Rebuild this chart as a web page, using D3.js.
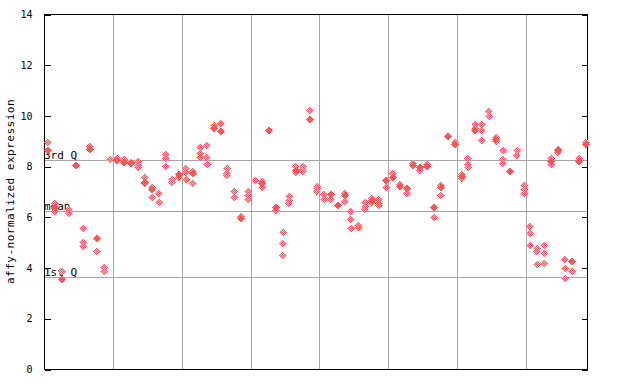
<!DOCTYPE html>
<html>
<head>
<meta charset="utf-8">
<script src="https://cdn.jsdelivr.net/npm/d3@7"></script>
<style>
  body { margin: 0; background: #fff; }
  svg { display: block; }
  text { font-family: "DejaVu Sans Mono", monospace; fill: #000; }
</style>
</head>
<body>
<svg width="640" height="384"></svg>
<script>
// filled diamond for each sample (null where none is visible)
const sampleValues = [
  8.64, 6.39, 3.56, null, 8.06, null, 8.68, 5.18, null, null,
  8.24, 8.16, 8.11, null, 7.39, 7.10, null, null, null, 7.69,
  null, 7.73, null, null, 9.52, 9.39, null, null, 5.94, null,
  null, 7.32, 9.43, 6.38, null, null, 7.84, null, 9.86, null,
  null, 6.90, 6.46, 6.86, null, null, null, 6.66, null, 7.44,
  7.58, 7.22, 7.15, 8.03, 7.95, 8.01, 6.40, 7.17, 9.20, 8.88,
  7.62, null, 9.43, null, null, 9.06, null, 7.82, null, null,
  null, null, null, 8.20, 8.62, null, 4.27, 8.19, 8.86
];

// hollow (checkered) diamonds for each sample
const replicateValues = [
  [8.94], [6.53, 6.24], [3.86], [6.30, 6.14], [], [5.55, 5.02, 4.86], [8.80], [4.65], [4.02, 3.85], [8.27],
  [8.34], [8.29], [8.18], [8.19, 8.03, 7.95], [7.58, 7.32], [7.19, 6.80], [6.95, 6.60], [8.48, 8.32, 8.01], [7.49, 7.39], [7.58],
  [7.94, 7.75, 7.51], [7.80, 7.32], [8.74, 8.51, 8.35], [8.82, 8.35, 8.07], [9.62], [9.69], [7.92, 7.72, 7.64], [7.01, 6.77], [6.03], [7.02, 6.86, 6.69],
  [7.45], [7.43, 7.19], [], [6.27], [5.39, 4.96, 4.48], [6.81, 6.65, 6.56], [7.99, 7.77], [7.99, 7.88, 7.80], [10.21], [7.23, 7.13, 7.03],
  [6.89, 6.69], [6.69], [], [6.96, 6.61], [6.22, 5.90, 5.55], [5.69, 5.61], [6.57, 6.44, 6.31], [6.73, 6.57], [6.70, 6.56, 6.47], [7.19],
  [7.74], [7.30], [6.93], [8.14], [7.85], [8.08], [5.99], [7.26, 6.85], [], [8.97],
  [7.70, 7.52], [8.31, 8.09, 7.97], [9.65, 9.50], [9.65, 9.42, 9.02], [10.16, 9.98], [9.15, 8.99], [8.62, 8.30, 8.14], [], [8.64, 8.43], [7.26, 7.09, 6.93],
  [5.63, 5.35, 4.88], [4.77, 4.66, 4.13], [4.88, 4.56, 4.17], [8.31, 8.10], [8.68, 8.55], [4.33, 3.97, 3.58], [3.85], [8.31], [8.96]
];

const yTicks = [0, 2, 4, 6, 8, 10, 12, 14];
const refLabels = ['3rd Q', 'mean', '1st Q'];
const refValues = [8.24, 6.23, 3.62];
const groupSize = 10;

const svg = d3.select('svg');
const red = '#ff5555';
const checkGrey = '#c8c8c8';
const gridColor = '#a6a6a6';

const plotLeft = 44, plotRight = 588, plotTop = 14, plotBottom = 369;

const x = d3.scaleBand()
  .domain(d3.range(sampleValues.length))
  .range([plotLeft, plotRight])
  .paddingInner(0).paddingOuter(0);

const y = d3.scaleLinear().domain([0, 14]).range([plotBottom, plotTop]);

const px = v => Math.round(v) + 0.5;
const cx = i => Math.round(x(i) + x.bandwidth() / 2);

// checker pattern for hollow diamonds (red / light grey pixels)
const pat = svg.append('defs').append('pattern')
  .attr('id', 'checker')
  .attr('patternUnits', 'userSpaceOnUse')
  .attr('width', 2).attr('height', 2);
pat.append('rect').attr('x', 0).attr('y', 0).attr('width', 1).attr('height', 1).attr('fill', red);
pat.append('rect').attr('x', 1).attr('y', 1).attr('width', 1).attr('height', 1).attr('fill', red);
pat.append('rect').attr('x', 1).attr('y', 0).attr('width', 1).attr('height', 1).attr('fill', checkGrey);
pat.append('rect').attr('x', 0).attr('y', 1).attr('width', 1).attr('height', 1).attr('fill', checkGrey);

// vertical group separators
const gridG = svg.append('g').attr('stroke', gridColor).attr('shape-rendering', 'crispEdges');
gridG.selectAll('line.v')
  .data(d3.range(groupSize, sampleValues.length, groupSize))
  .enter().append('line')
    .attr('x1', d => px(x(d))).attr('x2', d => px(x(d)))
    .attr('y1', plotTop).attr('y2', plotBottom);

// quartile / mean lines
gridG.selectAll('line.h')
  .data(refValues)
  .enter().append('line')
    .attr('x1', plotLeft).attr('x2', plotRight)
    .attr('y1', d => px(y(d))).attr('y2', d => px(y(d)));

svg.append('g').selectAll('text')
  .data(refLabels)
  .enter().append('text')
    .attr('x', plotLeft)
    .attr('y', (d, i) => Math.round(y(refValues[i])) - 1)
    .style('font-size', '11px')
    .text(d => d);

// frame
svg.append('rect')
  .attr('x', plotLeft + 0.5).attr('y', plotTop + 0.5)
  .attr('width', plotRight - plotLeft - 1).attr('height', plotBottom - plotTop)
  .attr('fill', 'none').attr('stroke', '#000')
  .attr('shape-rendering', 'crispEdges');

// axes (ticks inward on both sides)
const leftAxis = d3.axisLeft(y).tickValues(yTicks).tickSize(-6).tickPadding(12).tickFormat(d3.format('d'));
const gl = svg.append('g').attr('transform', `translate(${plotLeft + 0.5},0.5)`).call(leftAxis);
gl.select('.domain').remove();
gl.selectAll('text').style('font-size', '10px').attr('fill', '#000');
gl.selectAll('line').attr('shape-rendering', 'crispEdges');

const rightAxis = d3.axisRight(y).tickValues(yTicks).tickSize(-6).tickFormat('');
const gr = svg.append('g').attr('transform', `translate(${plotRight - 0.5},0.5)`).call(rightAxis);
gr.select('.domain').remove();
gr.selectAll('line').attr('shape-rendering', 'crispEdges');

svg.append('text')
  .attr('transform', `translate(14,${(plotTop + plotBottom) / 2}) rotate(-90)`)
  .attr('text-anchor', 'middle')
  .style('font-size', '11px')
  .style('letter-spacing', '0.5px')
  .text('affy-normalized expression');

// points
const diamond = (cxv, cyv, r) =>
  `M${cxv},${cyv - r}L${cxv + r},${cyv}L${cxv},${cyv + r}L${cxv - r},${cyv}Z`;

const hollowPts = [];
replicateValues.forEach((vals, i) => vals.forEach(v => hollowPts.push({ i, v })));

svg.append('g').selectAll('path')
  .data(hollowPts)
  .enter().append('path')
    .attr('d', d => diamond(cx(d.i) + 0.5, Math.round(y(d.v)) + 0.5, 4))
    .attr('fill', 'url(#checker)')
    .attr('shape-rendering', 'crispEdges');

svg.append('g').selectAll('path')
  .data(sampleValues.map((v, i) => ({ i, v })).filter(d => d.v !== null))
  .enter().append('path')
    .attr('d', d => diamond(cx(d.i) + 0.5, Math.round(y(d.v)) + 0.5, 4))
    .attr('fill', red)
    .attr('shape-rendering', 'crispEdges');
</script>
</body>
</html>
